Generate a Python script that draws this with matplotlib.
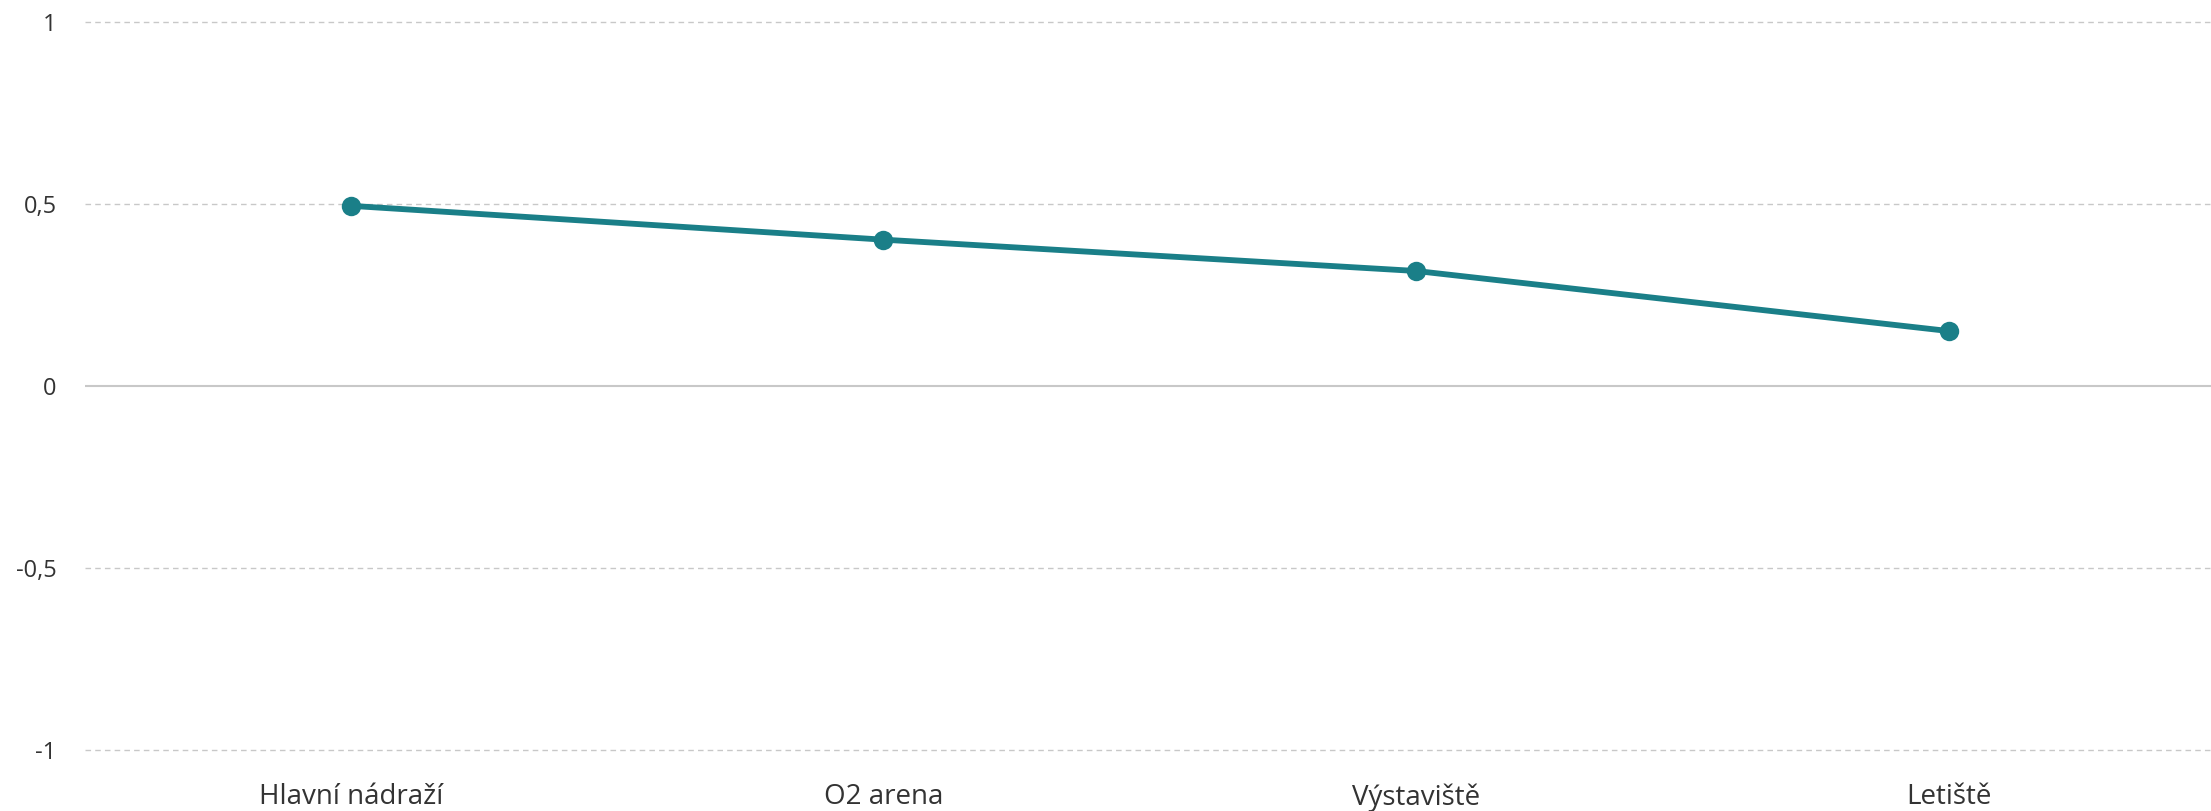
import matplotlib
matplotlib.use("Agg")
import matplotlib.pyplot as plt

categories = ["Hlavní nádraží", "O2 arena", "Výstaviště", "Letiště"]
values = [0.495, 0.402, 0.316, 0.151]
y_ticks = [-1, -0.5, 0, 0.5, 1]
y_tick_labels = ["-1", "-0,5", "0", "0,5", "1"]

LINE_COLOR = "#1A7F88"
GRID_COLOR = "#C8C8C8"
TEXT_COLOR = "#333333"

plt.rcParams["font.family"] = ["Open Sans", "DejaVu Sans"]

W, H = 2211, 811
fig = plt.figure(figsize=(W / 100, H / 100), dpi=100)

# axes geometry in pixels
left_px, right_px = 84.5, 2215.0
unit_px = 364.0
zero_px = 386.0
ymin, ymax = -1.05, 1.05
top_px = zero_px - ymax * unit_px
bot_px = zero_px - ymin * unit_px
ax = fig.add_axes([left_px / W, (H - bot_px) / H, (right_px - left_px) / W, (bot_px - top_px) / H])

x = list(range(len(categories)))
ax.set_xlim(-0.5, len(categories) - 0.5)
ax.set_ylim(ymin, ymax)

for t in y_ticks:
    if t == 0:
        ax.axhline(t, color=GRID_COLOR, lw=1.5, zorder=1)
    else:
        ax.axhline(t, color=GRID_COLOR, lw=1.0, dashes=(4, 3), zorder=1)

ax.plot(x, values, color=LINE_COLOR, lw=4.2, marker="o", markersize=14,
        markeredgewidth=0, solid_capstyle="round", zorder=3)

for s in ax.spines.values():
    s.set_visible(False)

ax.set_yticks(y_ticks)
ax.set_yticklabels(y_tick_labels)
ax.set_xticks(x)
ax.set_xticklabels(categories)
ax.tick_params(axis="y", length=0, pad=20, labelsize=17, labelcolor=TEXT_COLOR)
ax.tick_params(axis="x", length=0, pad=11, labelsize=20, labelcolor=TEXT_COLOR)

fig.savefig("out.png", dpi=100, facecolor="white")
